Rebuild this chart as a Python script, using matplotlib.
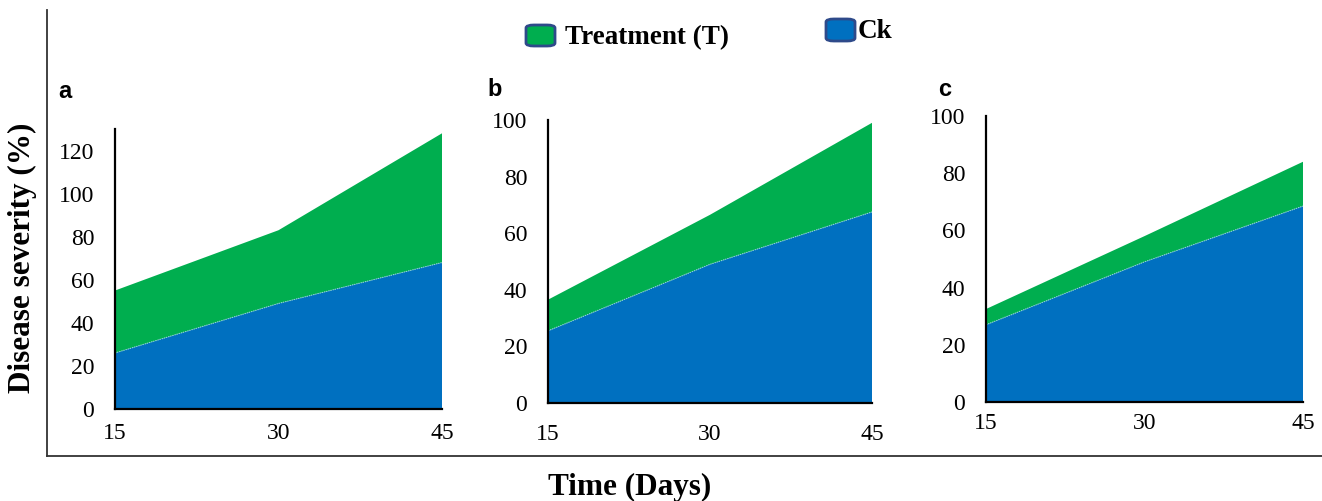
import matplotlib
matplotlib.use("Agg")
import matplotlib.pyplot as plt
from matplotlib.patches import FancyBboxPatch
from matplotlib.lines import Line2D

days = [15, 30, 45]
panel_labels = ["a", "b", "c"]
ck_a = [26, 49, 68]
total_a = [55, 83, 128]
ck_b = [25.5, 49, 67.5]
total_b = [36.5, 66.5, 99]
ck_c = [27, 49, 68.5]
total_c = [32.5, 58, 84]
treat_a = [t - c for t, c in zip(total_a, ck_a)]
treat_b = [t - c for t, c in zip(total_b, ck_b)]
treat_c = [t - c for t, c in zip(total_c, ck_c)]
yticks_a = [0, 20, 40, 60, 80, 100, 120]
yticks_bc = [0, 20, 40, 60, 80, 100]
xticks = [15, 30, 45]

GREEN = "#00AE4F"
BLUE = "#0070C0"
SERIF = "Liberation Serif"

W, H = 1322, 501
fig = plt.figure(figsize=(W / 100, H / 100), dpi=100)

def px(l, r, b, t):
    return [l / W, 1 - b / H, (r - l) / W, (b - t) / H]

panels = [
    (px(115, 442, 409, 129), ck_a, treat_a, 130, yticks_a, 10, (58, 91)),
    (px(548, 872, 403, 120), ck_b, treat_b, 100, yticks_bc, 15, (487, 90)),
    (px(986, 1303, 402, 116), ck_c, treat_c, 100, yticks_bc, 8, (938, 89)),
]

for i, (rect, ck, tr, ymax, yt, xpad, lab) in enumerate(panels):
    ax = fig.add_axes(rect)
    ax.stackplot(days, ck, tr, colors=[BLUE, GREEN], linewidth=0)
    ax.plot(days, ck, color="#8fd0e0", lw=0.8, ls=(0, (1, 1)))
    ax.set_xlim(15, 45)
    ax.set_ylim(0, ymax)
    ax.set_xticks(xticks)
    ax.set_yticks(yt)
    ax.margins(0)
    for s in ["top", "right"]:
        ax.spines[s].set_visible(False)
    for s in ["left", "bottom"]:
        ax.spines[s].set_linewidth(1.6)
        ax.spines[s].set_color("black")
    ax.tick_params(axis="both", length=0, labelsize=17)
    ax.tick_params(axis="y", pad=15)
    ax.tick_params(axis="x", pad=xpad)
    for t in ax.get_xticklabels() + ax.get_yticklabels():
        t.set_fontfamily(SERIF)
    fig.text(lab[0] / W, 1 - lab[1] / H, panel_labels[i], fontsize=17,
             fontweight="bold", family="Liberation Sans", ha="left", va="center")

# outer frame
fig.add_artist(Line2D([47 / W, 47 / W], [1 - 10 / H, 1 - 456 / H], color="#333333", lw=1.3))
fig.add_artist(Line2D([47 / W, 1.0], [1 - 456 / H, 1 - 456 / H], color="#333333", lw=1.3))

# axis titles
fig.text(22 / W, 1 - 258 / H, "Disease severity (%)", rotation=90, fontsize=22.5,
         fontweight="bold", family=SERIF, ha="center", va="center")
fig.text(630 / W, 1 - 487 / H, "Time (Days)", fontsize=22.5,
         fontweight="bold", family=SERIF, ha="center", va="center")

# legend
def legend_patch(l, r, b, t, color):
    p = FancyBboxPatch((l / W, 1 - b / H), (r - l) / W, (b - t) / H,
                       boxstyle="round,pad=0,rounding_size=0.006",
                       transform=fig.transFigure, facecolor=color,
                       edgecolor="#2E4A8A", lw=2)
    fig.add_artist(p)

legend_patch(526, 555, 46, 25, GREEN)
fig.text(565 / W, 1 - 44 / H, "Treatment (T)", fontsize=19.5, fontweight="bold",
         family=SERIF, ha="left", va="baseline")
legend_patch(826, 855, 41, 19, BLUE)
fig.text(858 / W, 1 - 38 / H, "Ck", fontsize=19.5, fontweight="bold",
         family=SERIF, ha="left", va="baseline")

fig.savefig("out.png", dpi=100)
